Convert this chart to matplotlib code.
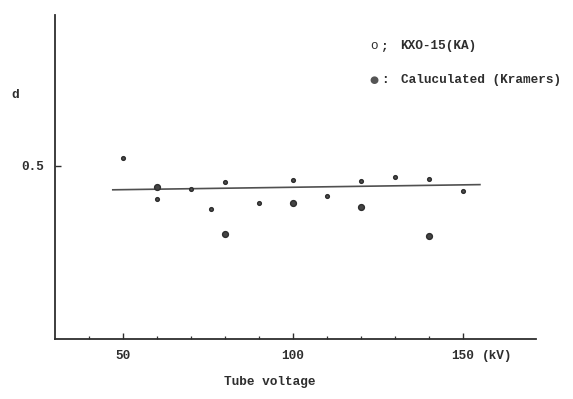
import numpy as np
import matplotlib
matplotlib.use('Agg')
import matplotlib.pyplot as plt
from matplotlib.ticker import FixedLocator

# measured d values (KXO-15), small markers
kxo_kv = [50, 60, 60, 70, 76, 80, 90, 100, 110, 120, 130, 140, 150]
kxo_d = [0.523, 0.440, 0.405, 0.434, 0.376, 0.453, 0.394, 0.459, 0.414, 0.456, 0.467, 0.462, 0.427]

# calculated (Kramers), larger markers
calc_kv = [60, 80, 100, 120, 140]
calc_d = [0.440, 0.302, 0.394, 0.380, 0.299]

# fitted line end points
line_kv = [47, 155]
line_d = [0.431, 0.446]

plt.rcParams['font.family'] = ['Liberation Mono', 'DejaVu Sans Mono']
ink = '#2e2e2e'
fs = 9.2

fig = plt.figure(figsize=(5.73, 3.99), dpi=100)
ax = fig.add_axes([55 / 573, 1 - 339 / 399, (536 - 55) / 573, (339 - 15) / 399])

ax.plot(line_kv, line_d, '-', color='#505050', lw=1.2)
ax.plot(kxo_kv, kxo_d, 'o', ms=2.6, mew=1.1, mfc='#555555', mec=ink)
ax.plot(calc_kv, calc_d, 'o', ms=4.2, mew=1.0, mfc='#444444', mec=ink)

ax.set_xlim(30, 171.5)
ax.set_ylim(0, 0.936)

for s in ['top', 'right']:
    ax.spines[s].set_visible(False)
for s in ['left', 'bottom']:
    ax.spines[s].set_color(ink)
    ax.spines[s].set_linewidth(1.3)

ax.set_xticks([50, 100, 150])
ax.set_xticklabels(['50', '100', '150'])
ax.xaxis.set_minor_locator(FixedLocator([40, 60, 70, 80, 90, 110, 120, 130, 140]))
ax.set_yticks([0.5])
ax.set_yticklabels(['0.5'])
ax.tick_params(axis='both', which='major', direction='in', length=4, width=1.0,
               color=ink, labelcolor=ink, labelsize=fs, pad=8)
ax.tick_params(axis='x', which='minor', direction='in', length=2, width=0.9, color=ink)
ax.tick_params(axis='y', pad=8)
for lab in ax.get_xticklabels() + ax.get_yticklabels():
    lab.set_fontweight('bold')

tk = dict(fontsize=fs, color=ink, fontweight='bold')
fig.text(497 / 573, 1 - 356 / 399, '(kV)', ha='center', va='center', **tk)
fig.text(270 / 573, 1 - 382 / 399, 'Tube voltage', ha='center', va='center', **tk)
fig.text(15 / 573, 1 - 95 / 399, 'd', ha='center', va='center', **tk)

# hand-drawn legend
fig.text(374 / 573, 1 - 46 / 399, 'o', ha='center', va='center', fontsize=fs, color=ink)
fig.text(385 / 573, 1 - 46 / 399, ';', ha='center', va='center', **tk)
fig.text(400 / 573, 1 - 46 / 399, 'KXO-15(KA)', ha='left', va='center', **tk)
fig.text(374 / 573, 1 - 80 / 399, '\u25cf', ha='center', va='center', fontsize=7.5,
         color='#555555', family='DejaVu Sans')
fig.text(385 / 573, 1 - 80 / 399, ':', ha='center', va='center', **tk)
fig.text(401 / 573, 1 - 80 / 399, 'Caluculated (Kramers)', ha='left', va='center', **tk)

fig.savefig('out.png', dpi=100)
